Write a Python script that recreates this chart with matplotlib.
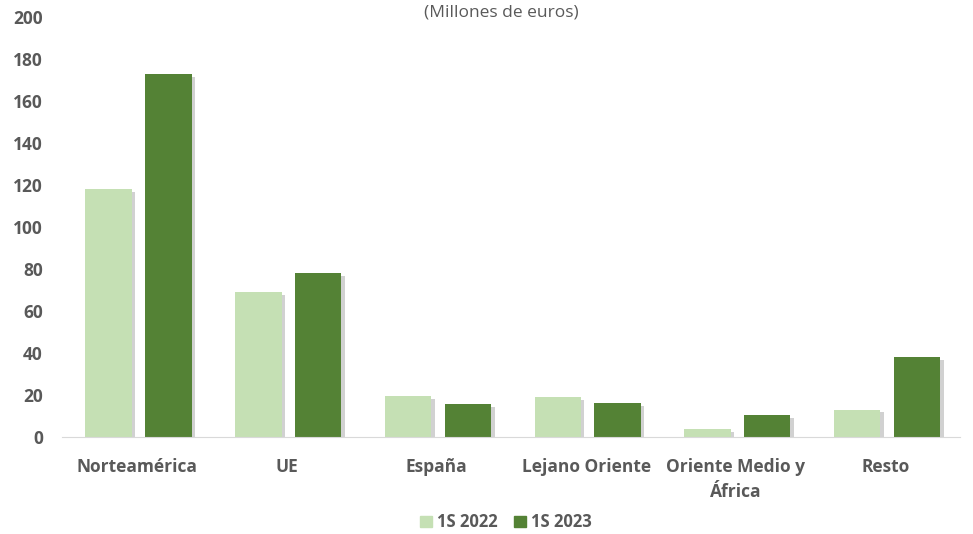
import matplotlib.pyplot as plt
import matplotlib.patheffects as pe
from matplotlib.patches import Patch
import numpy as np

categories = ['Norteamérica', 'UE', 'España', 'Lejano Oriente', 'Oriente Medio y\nÁfrica', 'Resto']
s2022 = [118, 69, 19.5, 19, 3.5, 13]
s2023 = [173, 78, 15.5, 16, 10.5, 38]
series_names = ['1S 2022', '1S 2023']
colors = ['#c5e0b4', '#548235']

plt.rcParams['font.family'] = ['Open Sans', 'DejaVu Sans']
text_color = '#595959'

fig = plt.figure(figsize=(9.73, 5.34), dpi=100)
ax = fig.add_axes([0.064, 0.182, 0.923, 0.786])

x = np.arange(len(categories))
w = 0.31
shadow = [pe.SimplePatchShadow(offset=(2.5, -2), shadow_rgbFace='#000000', alpha=0.18), pe.Normal()]
ax.bar(x - 0.19, s2022, width=w, color=colors[0], path_effects=shadow)
ax.bar(x + 0.21, s2023, width=w, color=colors[1], path_effects=shadow)

ax.set_ylim(0, 200)
ax.set_xlim(-0.5, len(categories) - 0.5)
ax.set_yticks(range(0, 201, 20))
ax.set_xticks(x)
ax.set_xticklabels(categories, linespacing=1.5)
for spine in ['top', 'right', 'left']:
    ax.spines[spine].set_visible(False)
ax.spines['bottom'].set_color('#d9d9d9')
ax.tick_params(axis='both', length=0, colors=text_color)
ax.tick_params(axis='y', pad=14, labelsize=12.5)
ax.tick_params(axis='x', pad=15, labelsize=12.5)
for lbl in ax.get_xticklabels() + ax.get_yticklabels():
    lbl.set_fontweight('bold')

fig.text(0.515, 0.977, '(Millones de euros)', ha='center', va='center', color=text_color, fontsize=12.5)

handles = [Patch(color=c, label=n) for c, n in zip(colors, series_names)]
leg = fig.legend(handles=handles, loc='center', bbox_to_anchor=(0.52, 0.022), ncol=2, frameon=False,
                 handlelength=0.7, handleheight=0.7, handletextpad=0.3, columnspacing=1.0,
                 prop={'weight': 'bold', 'size': 12})
for t in leg.get_texts():
    t.set_color(text_color)

plt.savefig('out.png', dpi=100)
